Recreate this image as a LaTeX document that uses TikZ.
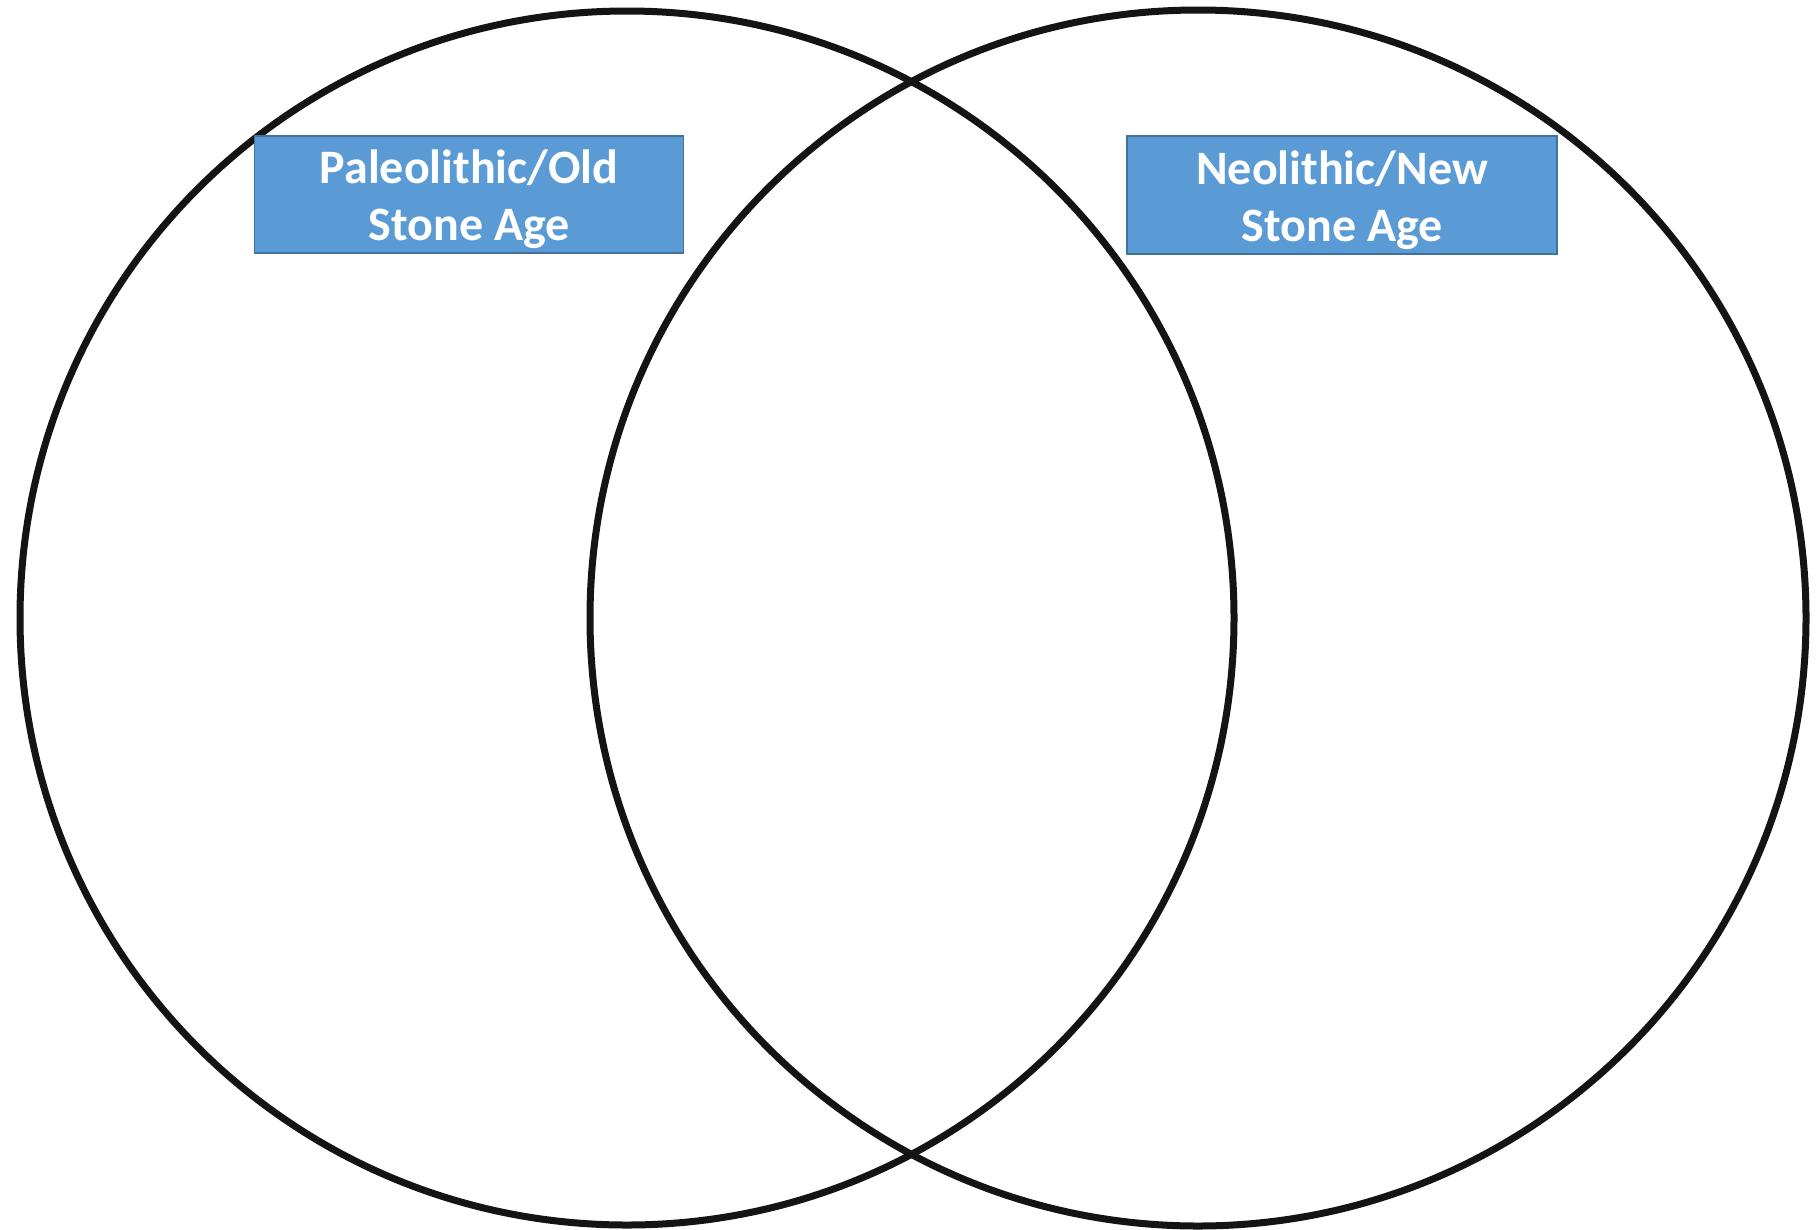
\documentclass[tikz,border=0pt]{standalone}
\usepackage{fontspec}
\setmainfont{Carlito}
\definecolor{boxfill}{HTML}{5B9BD5}
\definecolor{boxline}{HTML}{41719C}
\begin{document}
\begin{tikzpicture}[x=1pt,y=-1pt,
  ring/.style={draw=black!92,line width=7pt},
  titlebox/.style={draw=boxline,line width=1.8pt,fill=boxfill,inner sep=0pt},
  titletext/.style={text=white,font=\fontsize{48}{57}\selectfont\bfseries,align=center,inner sep=0pt}]
\useasboundingbox[fill=white] (0,0) rectangle (1817,1229);
\draw[ring] (627,618) circle[radius=607];
\draw[ring] (1198,618) circle[radius=608];
\node[titlebox,minimum width=429pt,minimum height=117pt] (old) at (469,194.5) {};
\node[titletext] (oldtext) at ([yshift=-5pt]old.center) {Paleolithic/Old\\Stone Age};
\node[titlebox,minimum width=430pt,minimum height=118pt] (new) at (1342,195) {};
\node[titletext] (newtext) at ([yshift=-5pt]new.center) {Neolithic/New\\Stone Age};
\end{tikzpicture}
\end{document}
